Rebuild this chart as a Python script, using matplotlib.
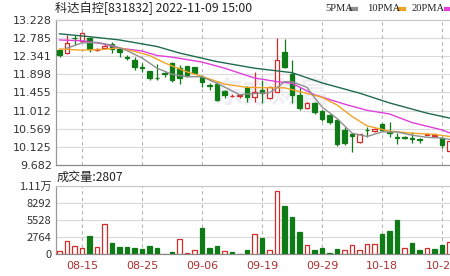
import matplotlib
matplotlib.use('Agg')
import matplotlib.pyplot as plt
from matplotlib.lines import Line2D
import numpy as np

# ---------------- data ----------------
dates = ['08-10','08-11','08-12','08-15','08-16','08-17','08-18','08-19','08-22','08-23',
         '08-24','08-25','08-26','08-29','08-30','08-31','09-01','09-02','09-05','09-06',
         '09-07','09-08','09-09','09-13','09-14','09-15','09-16','09-19','09-20','09-21',
         '09-22','09-23','09-26','09-27','09-28','09-29','09-30','10-10','10-11','10-12',
         '10-13','10-14','10-17','10-18','10-19','10-20','10-21','10-24','10-25','10-26',
         '10-27','10-28','10-31']
opens  = [12.49,12.42,12.80,12.72,12.79,12.49,12.55,12.65,12.52,12.33,
          12.25,12.08,11.97,11.82,11.93,12.17,12.06,12.10,12.08,11.84,
          11.63,11.66,11.50,11.36,11.36,11.58,11.34,11.51,11.32,11.47,
          12.45,11.91,11.39,11.08,11.20,11.00,10.90,10.78,10.54,10.43,
          10.25,10.55,10.52,10.68,10.49,10.36,10.37,10.35,10.31,10.42,
          10.40,10.34,10.02]
highs  = [12.51,12.86,12.86,12.93,12.81,12.55,12.64,12.70,12.54,12.37,
          12.33,12.18,11.99,12.14,11.96,12.21,12.13,12.11,12.09,11.88,
          11.68,11.72,11.52,11.42,11.41,11.62,11.96,11.76,11.62,12.79,
          12.76,12.25,11.59,11.22,11.22,11.03,10.93,10.80,10.60,10.47,
          10.45,10.61,10.58,10.71,10.74,10.46,10.40,10.48,10.34,10.46,
          10.46,10.36,10.30]
lows   = [12.32,12.40,12.62,12.70,12.45,12.48,12.52,12.41,12.33,12.25,
          12.01,11.96,11.76,11.77,11.84,11.70,11.66,11.83,11.90,11.58,
          11.51,11.24,11.32,11.35,11.31,11.22,11.22,11.19,11.30,11.46,
          12.05,11.19,11.03,11.06,10.92,10.75,10.68,10.15,10.16,10.00,
          10.23,10.37,10.50,10.51,10.37,10.20,10.33,10.22,10.21,10.42,
          10.38,10.10,10.00]
closes = [12.37,12.67,12.78,12.90,12.52,12.53,12.58,12.53,12.45,12.31,
          12.07,12.05,11.82,11.80,11.91,11.76,11.80,11.88,11.92,11.72,
          11.61,11.27,11.40,11.38,11.39,11.35,11.47,11.44,11.59,12.25,
          12.08,11.39,11.08,11.20,10.98,10.80,10.73,10.20,10.22,10.40,
          10.43,10.53,10.56,10.55,10.47,10.34,10.35,10.33,10.29,10.44,
          10.42,10.17,10.27]
prev_close = 12.30
volumes = [490,2100,1300,980,2930,1080,4880,1840,1190,1080,
           1030,870,1300,980,80,380,2390,150,650,4280,
           1030,1350,540,380,80,700,3250,2650,650,10240,
           7800,6070,3630,1460,650,1030,210,810,600,1410,
           600,1580,1580,3200,3790,5530,930,1740,650,930,
           810,1410,1950]

ma5_idx = [1,3,5,7,9,11,13,15,17,19,21,22,24,26,28,29,30,31,33,34,35,37,39,41,43,45,47,49,51,52]
ma5 = [12.54,12.67,12.68,12.61,12.48,12.30,12.05,11.90,11.84,11.84,11.68,11.59,11.40,11.43,11.45,
       11.57,11.72,11.72,11.58,11.33,11.10,10.82,10.46,10.38,10.49,10.49,10.41,10.36,10.34,10.31]
ma10_idx = [0,3,6,8,10,12,14,17,19,22,25,28,30,32,35,37,39,41,44,47,50,52]
ma10 = [12.52,12.49,12.51,12.55,12.46,12.36,12.18,11.96,11.85,11.66,11.58,11.57,11.57,11.48,
        11.34,11.15,10.87,10.64,10.51,10.46,10.43,10.38]
ma20_idx = [0,3,6,8,11,13,15,19,22,26,29,31,34,38,41,44,47,51,52]
ma20 = [12.74,12.72,12.64,12.54,12.47,12.36,12.32,12.20,12.05,11.81,11.72,11.68,11.40,11.17,
        11.02,10.93,10.72,10.54,10.47]
malong_idx = [0,4,8,13,16,21,26,31,35,40,44,49,52]
malong = [12.89,12.82,12.74,12.58,12.42,12.21,12.05,11.94,11.69,11.44,11.20,10.95,10.83]

price_ticks = [9.682,10.125,10.569,11.012,11.455,11.898,12.341,12.785,13.228]
vol_ticks = [0,2764,5528,8292,11056]
vol_tick_labels = ['0','2764','5528','8292','1.11万']
title_text = '科达自控[831832] 2022-11-09 15:00'
vol_title = '成交量:2807'
legend_labels = ['5PMA', '10PMA', '20PMA']
legend_colors = ['#8f8f8f', '#f0a426', '#e03fdc']
long_ma_color = '#1f6b4e'

# ---------------- style ----------------
RED = '#d42a2a'
GREEN = '#0f7b17'
CJK = ['Noto Sans CJK SC', 'DejaVu Sans']
W, H = 450, 276

fig = plt.figure(figsize=(4.5, 2.76), dpi=100)
fig.patch.set_facecolor('white')

def fx(px):
    return px / W

def fy(py):
    return 1 - py / H

left, right = 56, 470
axp = fig.add_axes([fx(left), fy(165), (right - left) / W, 145 / H])
axv = fig.add_axes([fx(left), fy(254), (right - left) / W, 68 / H])

n = len(closes)
x = np.arange(n)
xmin = -0.4667
xmax = xmin + (right - left) / 7.5

for ax in (axp, axv):
    ax.set_xlim(xmin, xmax)
    ax.spines['right'].set_visible(False)
    ax.spines['top'].set_color('#c8c8c8')
    ax.spines['left'].set_color('#9a9a9a')
    ax.spines['bottom'].set_color('#8a8a8a')
    for s in ax.spines.values():
        s.set_linewidth(0.9)
    ax.tick_params(axis='both', length=0, labelsize=8, colors='#333333', pad=3)
    ax.set_facecolor('white')

label_idx = list(range(3, n, 8))

# ---------------- price panel ----------------
axp.set_ylim(price_ticks[0], price_ticks[-1])
axp.set_yticks(price_ticks)
axp.set_yticklabels(['%.3f' % t for t in price_ticks])
axp.set_xticks([])
for t in price_ticks[1:-1]:
    axp.axhline(t, color='#dadada', lw=0.8, zorder=0)
for i in label_idx:
    axp.axvline(i, color='#b4b4b4', lw=0.8, ls=(0, (3, 3)), zorder=0)

axp.text(0.52, 0.50, '东方财富', transform=axp.transAxes, ha='center', va='center',
         fontsize=21, fontweight='bold', color='#eeeef4', family=CJK, zorder=0.5,
         style='italic')

opens_a = np.array(opens)
closes_a = np.array(closes)
up = closes_a >= opens_a
cw = 0.66
for i in range(n):
    col = RED if up[i] else GREEN
    axp.vlines(x[i], lows[i], highs[i], color=col, lw=0.9, zorder=2)
    bot = min(opens[i], closes[i])
    h = abs(closes[i] - opens[i])
    axp.bar(x[i], max(h, 0.004), bottom=bot, width=cw,
            facecolor='white' if up[i] else col, edgecolor=col, lw=0.9, zorder=3)

axp.plot(malong_idx, malong, color=long_ma_color, lw=1.0, zorder=4)
axp.plot(ma20_idx, ma20, color=legend_colors[2], lw=1.0, zorder=4)
axp.plot(ma10_idx, ma10, color=legend_colors[1], lw=1.0, zorder=4)
axp.plot(ma5_idx, ma5, color=legend_colors[0], lw=1.0, zorder=4)

# ---------------- volume panel ----------------
axv.set_ylim(vol_ticks[0], vol_ticks[-1])
axv.set_yticks(vol_ticks)
axv.set_yticklabels(vol_tick_labels, family=CJK)
for t in vol_ticks[1:-1]:
    axv.axhline(t, color='#dadada', lw=0.8, zorder=0)
for i in label_idx:
    axv.axvline(i, color='#b4b4b4', lw=0.8, ls=(0, (3, 3)), zorder=0)
prevs = np.concatenate([[prev_close], closes_a[:-1]])
vup = closes_a >= prevs
for i in range(n):
    col = RED if vup[i] else GREEN
    axv.bar(x[i], volumes[i], width=0.6, facecolor='white' if vup[i] else col,
            edgecolor=col, lw=0.9, zorder=3)
axv.set_xticks(label_idx)
axv.set_xticklabels([dates[i] for i in label_idx])
axv.tick_params(axis='x', colors='#a83232', pad=5)

# ---------------- texts ----------------
fig.text(fx(55), fy(8.5), title_text, ha='left', va='center', fontsize=8.8,
         family=CJK, color='#222222')
fig.text(fx(57), fy(177), vol_title, ha='left', va='center', fontsize=8.7,
         family=CJK, color='#222222')

legend_px = [325, 367, 412]
dash_dx = [26, 32, 34]
for lab, col, px, dx in zip(legend_labels, legend_colors, legend_px, dash_dx):
    fig.text(fx(px), fy(8.5), lab, ha='left', va='center', fontsize=7.6,
             family='Liberation Serif', color='#222222')
    fig.add_artist(Line2D([fx(px + dx), fx(px + dx + 5)], [fy(8.5), fy(8.5)],
                          transform=fig.transFigure, color=col, lw=3.0))

fig.savefig('out.png', dpi=100, facecolor='white')
